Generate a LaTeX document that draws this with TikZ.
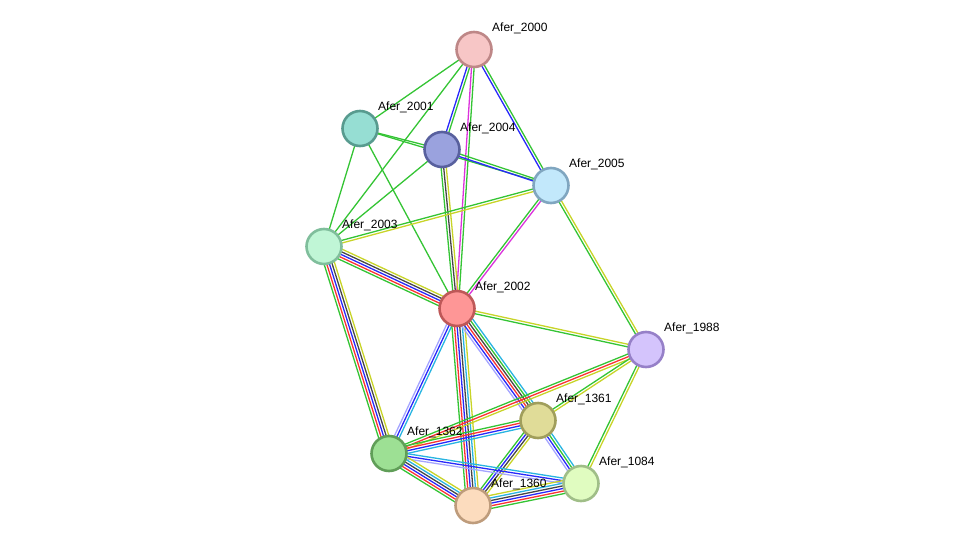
\documentclass[tikz,border=0pt]{standalone}
\usepackage{fontspec}
\setmainfont{Liberation Sans}
\usetikzlibrary{calc}
\pgfdeclarelayer{bg}
\pgfsetlayers{bg,main}
\definecolor{eg}{RGB}{52,196,52}
\definecolor{er}{RGB}{250,50,50}
\definecolor{eb}{RGB}{40,40,250}
\definecolor{ek}{RGB}{70,70,70}
\definecolor{em}{RGB}{220,50,220}
\definecolor{ec}{RGB}{40,180,225}
\definecolor{ey}{RGB}{200,212,40}
\definecolor{el}{RGB}{165,165,255}
\definecolor{f2000}{RGB}{247,198,198}\definecolor{b2000}{RGB}{190,135,135}
\definecolor{f2001}{RGB}{150,222,211}\definecolor{b2001}{RGB}{88,155,143}
\definecolor{f2004}{RGB}{154,162,222}\definecolor{b2004}{RGB}{88,96,158}
\definecolor{f2005}{RGB}{194,232,251}\definecolor{b2005}{RGB}{128,166,192}
\definecolor{f2003}{RGB}{192,246,214}\definecolor{b2003}{RGB}{128,190,156}
\definecolor{f2002}{RGB}{254,150,150}\definecolor{b2002}{RGB}{190,88,88}
\definecolor{f1988}{RGB}{212,196,252}\definecolor{b1988}{RGB}{150,128,200}
\definecolor{f1361}{RGB}{224,220,152}\definecolor{b1361}{RGB}{160,158,92}
\definecolor{f1362}{RGB}{157,224,148}\definecolor{b1362}{RGB}{96,158,88}
\definecolor{f1084}{RGB}{224,252,192}\definecolor{b1084}{RGB}{160,190,136}
\definecolor{f1360}{RGB}{252,220,190}\definecolor{b1360}{RGB}{190,156,124}
\tikzset{
  prot/.style={circle, minimum size=35pt, line width=2.6pt, inner sep=0pt},
  plabel/.style={anchor=west, inner sep=0pt, font=\fontsize{12}{12}\selectfont},
}
\newcommand\multiedge[3]{%
  \foreach \c [count=\i] in {#3} {\xdef\nedge{\i}}%
  \foreach \c [count=\i] in {#3} {%
    \pgfmathsetmacro\off{(\i-(\nedge+1)/2)*2.6}%
    \draw[\c, line width=1.3pt] ($(#1.center)!\off pt!90:(#2.center)$) -- ($(#2.center)!\off pt!-90:(#1.center)$);
  }}
\newcommand\prot[3]{% name, x, y
  \node[prot, fill=f#1, draw=b#1] (#1) at (#2pt,-#3pt) {};
  \node[plabel] (l#1) at ($(#1.center)+(18pt,21pt)$) {Afer\_#1};
}
\begin{document}
\begin{tikzpicture}
\useasboundingbox (0,0) rectangle (976pt,-551pt);
\prot{2000}{474}{49.5}
\prot{2001}{360}{128.5}
\prot{2004}{442}{149.5}
\prot{2005}{551}{185.5}
\prot{2003}{324}{246.5}
\prot{2002}{457}{308.5}
\prot{1988}{646}{349.5}
\prot{1361}{538}{420.5}
\prot{1362}{389}{453.5}
\prot{1084}{581}{483.5}
\prot{1360}{473}{505.5}
\begin{pgfonlayer}{bg}
\multiedge{2000}{2001}{eg}
\multiedge{2000}{2003}{eg}
\multiedge{2000}{2004}{eb,eg}
\multiedge{2000}{2002}{em,eg}
\multiedge{2000}{2005}{eb,eg}
\multiedge{2001}{2004}{eg}
\multiedge{2001}{2005}{eg}
\multiedge{2001}{2003}{eg}
\multiedge{2001}{2002}{eg}
\multiedge{2004}{2003}{eg}
\multiedge{2004}{2005}{eb,eg}
\multiedge{2004}{2002}{eg,ek,ey}
\multiedge{2005}{2003}{eg,ey}
\multiedge{2005}{2002}{eg,em}
\multiedge{2005}{1988}{eg,ey}
\multiedge{2003}{2002}{eg,er,eb,ek,ey}
\multiedge{2003}{1362}{eg,er,eb,ek,ey}
\multiedge{2002}{1988}{eg,ey}
\multiedge{2002}{1362}{el,eb,ec}
\multiedge{2002}{1360}{eg,er,eb,ek,ec,ey}
\multiedge{2002}{1361}{el,eb,er,ek,eg,ec}
\multiedge{1988}{1362}{eg,er,ey}
\multiedge{1988}{1361}{eg,ey}
\multiedge{1988}{1084}{eg,ey}
\multiedge{1361}{1362}{eg,er,eb,ec}
\multiedge{1361}{1360}{eg,eb,ek,ey}
\multiedge{1361}{1084}{el,eb,eg,ec}
\multiedge{1362}{1084}{el,eb,ec}
\multiedge{1362}{1360}{eg,er,eb,ek,ec,ey}
\multiedge{1360}{1084}{eg,er,eb,ek,ec,ey}
\end{pgfonlayer}
\end{tikzpicture}
\end{document}
